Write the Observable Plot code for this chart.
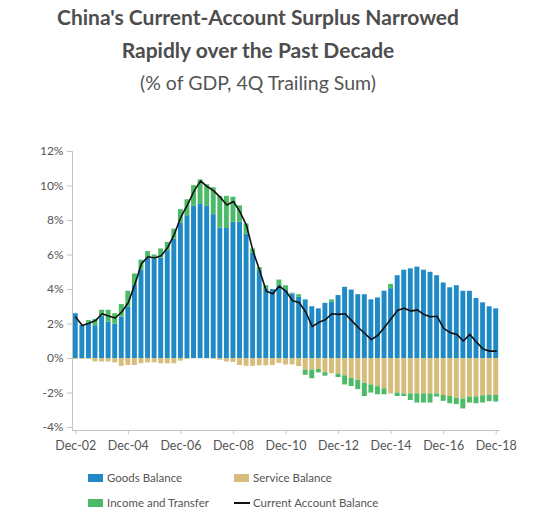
<!DOCTYPE html>
<html>
<head>
<meta charset="utf-8">
<script src="https://cdn.jsdelivr.net/npm/d3@7"></script>
<script src="https://cdn.jsdelivr.net/npm/@observablehq/plot@0.6"></script>
<style>
  html, body { margin: 0; padding: 0; background: #fff; }
  #wrap { position: relative; width: 550px; height: 531px; font-family: Lato, "Open Sans", sans-serif; color: #555; }
  .t { position: absolute; left: 0; width: 516px; text-align: center; white-space: nowrap; }
  .t1 { font-weight: 700; font-size: 21px; height: 34px; line-height: 34px; color: #4d4d4d; }
  .t2 { font-weight: 400; font-size: 19.5px; height: 34px; line-height: 34px; }
  #chart { position: absolute; left: 0; top: 100px; }
  .lg { position: absolute; font-size: 11.5px; height: 16px; line-height: 16px; white-space: nowrap; }
  .sw { position: absolute; width: 15px; height: 8px; }
  .ln { position: absolute; width: 16px; height: 2px; background: #111; }
</style>
</head>
<body>
<div id="wrap">
  <div class="t t1" style="top:0px">China's Current-Account Surplus Narrowed</div>
  <div class="t t1" style="top:33px">Rapidly over the Past Decade</div>
  <div class="t t2" style="top:66px">(% of GDP, 4Q Trailing Sum)</div>
  <div id="chart"></div>
  <div id="legend"></div>
</div>
<script>
// ---- data (quarterly, Dec-02 .. Dec-18, % of GDP, 4Q trailing sum) ----
const seriesNames = ["Goods Balance", "Service Balance", "Income and Transfer"];
const lineName = "Current Account Balance";
const seriesColors = ["#1f8ac6", "#d7bd7c", "#4cba66"];

const goods = [2.6, 1.92, 2.05, 1.9, 2.45, 2.1, 2.0, 2.4, 3.0, 4.23, 5.13, 5.83, 5.77, 5.83, 6.25, 6.92,
  7.86, 8.28, 8.82, 8.97, 8.82, 8.34, 7.57, 7.54, 7.9, 7.9, 7.2, 6.1, 5.1, 4.0, 4.0, 4.22,
  3.94, 3.74, 3.55, 3.4, 3.0, 2.88, 3.2, 3.26, 3.65, 4.13, 3.97, 3.7, 3.7, 3.4, 3.51, 3.9,
  4.05, 4.8, 5.12, 5.2, 5.3, 5.12, 5.0, 4.8, 4.38, 4.1, 4.22, 3.9, 3.9, 3.48, 3.23, 3.0, 2.88];

const service = [-0.05, -0.05, -0.05, -0.2, -0.2, -0.2, -0.25, -0.45, -0.4, -0.4, -0.3, -0.25, -0.25, -0.3, -0.3, -0.3,
  -0.15, -0.05, -0.02, -0.02, -0.02, -0.05, -0.1, -0.2, -0.22, -0.4, -0.45, -0.45, -0.42, -0.42, -0.4, -0.28,
  -0.37, -0.37, -0.47, -0.67, -0.67, -0.63, -0.82, -0.88, -0.9, -1.0, -1.15, -1.25, -1.44, -1.53, -1.63, -1.75,
  -2.05, -2.0, -2.05, -2.05, -2.05, -2.05, -2.05, -2.05, -2.14, -2.2, -2.3, -2.35, -2.23, -2.23, -2.16, -2.14, -2.14];

const income = [0, 0, 0.15, 0.37, 0.35, 0.7, 0.6, 0.73, 0.9, 0.67, 0.57, 0.37, 0.23, 0.52, 0.48, 0.58,
  0.77, 0.92, 1.2, 1.38, 1.25, 1.56, 1.83, 1.86, 1.45, 0.95, 0.6, 0.25, 0.17, 0.22, 0.0, 0.33,
  0.28, 0.05, 0.15, -0.3, -0.5, -0.2, -0.2, 0.14, -0.2, -0.53, -0.47, -0.55, -0.76, -0.47, -0.47, -0.35,
  0.25, -0.2, -0.15, -0.38, -0.53, -0.53, -0.53, -0.18, -0.34, -0.42, -0.37, -0.57, -0.35, -0.39, -0.42, -0.36, -0.38];

const currentAccount = [2.4, 1.92, 2.05, 2.2, 2.6, 2.46, 2.35, 2.7, 3.25, 4.3, 5.5, 5.9, 5.83, 5.96, 6.44, 7.2,
  8.2, 8.9, 9.7, 10.3, 9.97, 9.72, 9.34, 8.9, 9.1, 8.5, 7.7, 6.2, 5.1, 3.9, 3.75, 4.2,
  3.9, 3.35, 3.25, 2.7, 1.85, 2.1, 2.25, 2.6, 2.56, 2.6, 2.2, 1.8, 1.45, 1.1, 1.35, 1.82,
  2.3, 2.8, 2.92, 2.75, 2.82, 2.55, 2.42, 2.45, 1.75, 1.5, 1.4, 1.02, 1.4, 0.95, 0.55, 0.43, 0.43];

const xTickLabels = ["Dec-02", "Dec-04", "Dec-06", "Dec-08", "Dec-10", "Dec-12", "Dec-14", "Dec-16", "Dec-18"];
const yTickValues = [-4, -2, 0, 2, 4, 6, 8, 10, 12];

// quarter category labels
const months = ["Dec", "Mar", "Jun", "Sep"];
const quarters = goods.map((_, i) => {
  const m = months[i % 4];
  const yr = 2002 + Math.ceil(i / 4);
  return m + "-" + String(yr % 100).padStart(2, "0");
});

const rows = [];
quarters.forEach((q, i) => {
  rows.push({q, series: seriesNames[0], value: goods[i]});
  rows.push({q, series: seriesNames[1], value: service[i]});
  rows.push({q, series: seriesNames[2], value: income[i]});
});
const caRows = quarters.map((q, i) => ({q, value: currentAccount[i]}));

const chart = Plot.plot({
  width: 550,
  height: 362,
  marginLeft: 72,
  marginRight: 51,
  marginTop: 51,
  marginBottom: 32,
  style: {fontFamily: "Lato, 'Open Sans', sans-serif", fontSize: "12px", color: "#555", background: "transparent"},
  x: {type: "band", domain: quarters, paddingInner: 0.25, paddingOuter: 0.125, axis: null, label: null},
  y: {domain: [-4.17, 12], axis: null, label: null},
  color: {domain: seriesNames, range: seriesColors},
  marks: [
    Plot.barY(rows, {x: "q", y: "value", fill: "series", order: seriesNames}),
    Plot.line(caRows, {x: "q", y: "value", stroke: "#111", strokeWidth: 1.6}),
    Plot.frame({anchor: "left", stroke: "#c4c4c4"}),
    Plot.frame({anchor: "bottom", stroke: "#c4c4c4"}),
    Plot.axisY({ticks: yTickValues, tickFormat: d => d + "%", tickSize: 5, tickPadding: 4, stroke: "#c4c4c4", fill: "#555", fontSize: 12, label: null}),
    Plot.axisX({ticks: xTickLabels, tickSize: 4, tickPadding: 7, stroke: "#c4c4c4", fill: "#555", fontSize: 12.5, label: null})
  ]
});
document.getElementById("chart").appendChild(chart);

// legend
const legend = document.getElementById("legend");
const items = [
  {name: seriesNames[0], color: seriesColors[0], x: 88, y: 478, type: "sw"},
  {name: seriesNames[1], color: seriesColors[1], x: 234, y: 478, type: "sw"},
  {name: seriesNames[2], color: seriesColors[2], x: 88, y: 503, type: "sw"},
  {name: lineName, color: "#111", x: 234, y: 503, type: "ln"}
];
items.forEach(it => {
  const s = document.createElement("div");
  s.className = it.type;
  s.style.left = it.x + "px";
  s.style.top = (it.y - (it.type === "sw" ? 4 : 1)) + "px";
  if (it.type === "sw") s.style.background = it.color;
  legend.appendChild(s);
  const t = document.createElement("div");
  t.className = "lg";
  t.style.left = (it.x + 19) + "px";
  t.style.top = (it.y - 8) + "px";
  t.textContent = it.name;
  legend.appendChild(t);
});
</script>
</body>
</html>
